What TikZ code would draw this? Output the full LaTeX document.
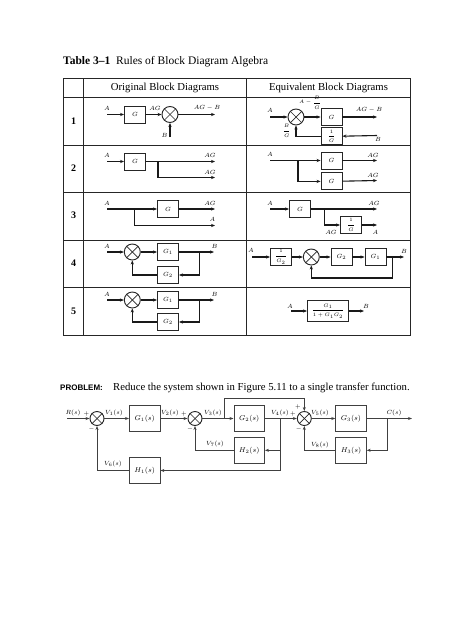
\documentclass[tikz,border=0pt]{standalone}
\usepackage{amsmath,amssymb}
\usepackage{fontspec}
\setmainfont{Liberation Serif}
\setsansfont{Liberation Sans}
\usetikzlibrary{arrows.meta, positioning, calc}

\begin{document}
\begin{tikzpicture}[
    x=1pt, y=-1pt,
    block/.style={
        rectangle, draw=black!85, fill=white, line width=0.9pt, inner sep=0pt,
        minimum width=21pt, minimum height=17pt, font=\fontsize{6.5}{7}\selectfont
    },
    fracblock/.style={block, font=\fontsize{5.5}{6}\selectfont},
    wideblock/.style={fracblock, minimum width=41pt, minimum height=20.5pt},
    sumnode/.style={
        circle, draw=black!85, fill=white, line width=0.9pt, inner sep=0pt, minimum size=16pt,
        append after command={
            (\tikzlastnode.north west) edge[line width=0.7pt, black!85] (\tikzlastnode.south east)
            (\tikzlastnode.north east) edge[line width=0.7pt, black!85] (\tikzlastnode.south west)
        }
    },
    syssum/.style={sumnode, minimum size=14pt},
    sysblock/.style={
        rectangle, draw=black!75, fill=white, line width=0.9pt, inner sep=0pt,
        minimum width=30.5pt, minimum height=26pt, font=\fontsize{7}{8}\selectfont
    },
    label/.style={inner sep=0pt, font=\fontsize{6}{7}\selectfont},
    fraclabel/.style={inner sep=0pt, font=\fontsize{5}{6}\selectfont},
    syslabel/.style={inner sep=0pt, font=\fontsize{6.5}{7}\selectfont},
    rowtag/.style={inner sep=0pt, font=\fontsize{10}{11}\selectfont\bfseries},
    head/.style={inner sep=0pt, font=\fontsize{10.7}{12}\selectfont},
    rule/.style={line width=0.9pt, black!85},
    arrow/.style={line width=1.1pt, black!90, -{Stealth[length=4pt,width=3.2pt]}},
    sysarrow/.style={line width=0.7pt, black!75, -{Stealth[length=4pt,width=3pt]}}
]
    \useasboundingbox (0,0) rectangle (474,632);

    %% Title
    \node[anchor=base west, inner sep=0pt, font=\fontsize{11.5}{13}\selectfont] (title) at (63,64)
        {\textbf{Table 3--1}\ \ Rules of Block Diagram Algebra};

    %% Table
    \coordinate (tl) at (63.5,78);
    \coordinate (br) at (410,335);
    \draw[rule] (tl) rectangle (br);
    \draw[rule] (83,78) -- (83,335);
    \draw[rule] (246,78) -- (246,335);
    \foreach \y in {97,145,192,240,287} {
        \draw[rule] (63.5,\y) -- (410,\y);
    }
    \node[head] (origin) at (165,88) {Original Block Diagrams};
    \node[head] (equiv) at (328.5,88) {Equivalent Block Diagrams};
    \node[rowtag] (one) at (73.5,121) {1};
    \node[rowtag] (two) at (73.5,168) {2};
    \node[rowtag] (three) at (73.5,215) {3};
    \node[rowtag] (four) at (73.5,263) {4};
    \node[rowtag] (five) at (73.5,311) {5};

    %% Row 1, original
    \coordinate (a1) at (107,114.5);
    \node[block] (g1) at (135,114.5) {$G$};
    \node[sumnode] (s1) at (170,114.5) {};
    \coordinate (o1) at (215,114.5);
    \coordinate (b1) at (170,137);
    \draw[arrow] (a1) -- (g1);
    \draw[arrow] (g1) -- (s1);
    \draw[arrow] (s1) -- (o1);
    \draw[arrow] (b1) -- (s1);
    \node[label] at (107,108) {$A$};
    \node[label] at (155,108) {$AG$};
    \node[label] at (207,108) {$AG-B$};
    \node[label] at (164.5,135.5) {$B$};

    %% Row 1, equivalent
    \coordinate (a1e) at (270,117);
    \node[sumnode] (s1e) at (296,117) {};
    \node[block] (g1e) at (331.5,117) {$G$};
    \node[fracblock, below=1.5pt of g1e] (h1e) {$\dfrac{1}{G}$};
    \coordinate (o1e) at (377,117);
    \coordinate (b1e) at (377,135.5);
    \draw[arrow] (a1e) -- (s1e);
    \draw[arrow] (s1e) -- (g1e);
    \draw[arrow] (g1e) -- (o1e);
    \draw[arrow] (b1e) -- (h1e);
    \draw[arrow] (h1e) -| (s1e);
    \node[label] at (270,110) {$A$};
    \node[fraclabel] at (310,102.5) {$A-\dfrac{B}{G}$};
    \node[label] at (369,110) {$AG-B$};
    \node[fraclabel] at (286.7,131) {$\dfrac{B}{G}$};
    \node[label] at (378,139) {$B$};

    %% Row 2, original
    \coordinate (a2) at (107,161.5);
    \node[block] (g2) at (135,161.5) {$G$};
    \coordinate (o2) at (215,161.5);
    \coordinate (p2) at (215,177.5);
    \coordinate (j2) at (158,161.5);
    \draw[arrow] (a2) -- (g2);
    \draw[arrow] (g2) -- (o2);
    \draw[arrow] (j2) |- (p2);
    \node[label] at (107,155.5) {$A$};
    \node[label] at (210,155) {$AG$};
    \node[label] at (210,172) {$AG$};

    %% Row 2, equivalent
    \coordinate (a2e) at (270,160.5);
    \node[block] (g2e) at (331.5,160.5) {$G$};
    \node[block, below=3pt of g2e] (h2e) {$G$};
    \coordinate (o2e) at (377,160.5);
    \coordinate (p2e) at (377,180.5);
    \coordinate (j2e) at (298,160.5);
    \draw[arrow] (a2e) -- (g2e);
    \draw[arrow] (g2e) -- (o2e);
    \draw[arrow] (j2e) |- (h2e);
    \draw[arrow] (h2e) -- (p2e);
    \node[label] at (270,154) {$A$};
    \node[label] at (373,155) {$AG$};
    \node[label] at (373,175) {$AG$};

    %% Row 3, original
    \coordinate (a3) at (107,209);
    \node[block] (g3) at (168,209) {$G$};
    \coordinate (o3) at (215,209);
    \coordinate (p3) at (215,225.5);
    \coordinate (j3) at (134.7,209);
    \draw[arrow] (a3) -- (g3);
    \draw[arrow] (g3) -- (o3);
    \draw[arrow] (j3) |- (p3);
    \node[label] at (107,203) {$A$};
    \node[label] at (210,203) {$AG$};
    \node[label] at (212.5,219) {$A$};

    %% Row 3, equivalent
    \coordinate (a3e) at (270,209);
    \node[block] (g3e) at (300,209) {$G$};
    \node[fracblock] (h3e) at (351,225) {$\dfrac{1}{G}$};
    \coordinate (o3e) at (377,209);
    \coordinate (p3e) at (377,225);
    \coordinate (j3e) at (324.7,209);
    \draw[arrow] (a3e) -- (g3e);
    \draw[arrow] (g3e) -- (o3e);
    \draw[arrow] (j3e) |- (h3e);
    \draw[arrow] (h3e) -- (p3e);
    \node[label] at (270,203) {$A$};
    \node[label] at (374,203) {$AG$};
    \node[label] at (331,232) {$AG$};
    \node[label] at (375.5,232) {$A$};

    %% Row 4, original
    \coordinate (a4) at (107,252);
    \node[sumnode] (s4) at (132.3,252) {};
    \node[block] (g4) at (168,252) {$G_1$};
    \node[block] (k4) at (168,275) {$G_2$};
    \coordinate (o4) at (214,252);
    \coordinate (j4) at (199.7,252);
    \draw[arrow] (a4) -- (s4);
    \draw[arrow] (s4) -- (g4);
    \draw[arrow] (g4) -- (o4);
    \draw[arrow] (j4) |- (k4);
    \draw[arrow] (k4) -| (s4);
    \node[label] at (107,246) {$A$};
    \node[label] at (214.5,246) {$B$};

    %% Row 4, equivalent
    \coordinate (a4e) at (252,257);
    \node[fracblock] (h4e) at (281,257) {$\dfrac{1}{G_2}$};
    \node[sumnode] (s4e) at (311.3,257) {};
    \node[block] (k4e) at (341.5,257) {$G_2$};
    \node[block] (g4e) at (375.5,257) {$G_1$};
    \coordinate (o4e) at (404,257);
    \coordinate (j4e) at (392.7,257);
    \coordinate (f4e) at (392.7,278);
    \draw[arrow] (a4e) -- (h4e);
    \draw[arrow] (h4e) -- (s4e);
    \draw[arrow] (s4e) -- (k4e);
    \draw[arrow] (k4e) -- (g4e);
    \draw[arrow] (g4e) -- (o4e);
    \draw[arrow] (j4e) -- (f4e) -| (s4e);
    \node[label] at (251,250.5) {$A$};
    \node[label] at (404,251) {$B$};

    %% Row 5, original
    \coordinate (a5) at (107,300);
    \node[sumnode] (s5) at (132.3,300) {};
    \node[block] (g5) at (168,300) {$G_1$};
    \node[block] (k5) at (168,322) {$G_2$};
    \coordinate (o5) at (214,300);
    \coordinate (j5) at (199.7,300);
    \draw[arrow] (a5) -- (s5);
    \draw[arrow] (s5) -- (g5);
    \draw[arrow] (g5) -- (o5);
    \draw[arrow] (j5) |- (k5);
    \draw[arrow] (k5) -| (s5);
    \node[label] at (107,294) {$A$};
    \node[label] at (214.5,294) {$B$};

    %% Row 5, equivalent
    \coordinate (a5e) at (291,311);
    \node[wideblock] (g5e) at (328,311) {$\dfrac{G_1}{1+G_1G_2}$};
    \coordinate (o5e) at (364,311);
    \draw[arrow] (a5e) -- (g5e);
    \draw[arrow] (g5e) -- (o5e);
    \node[label] at (290,306) {$A$};
    \node[label] at (366,306) {$B$};

    %% Problem statement
    \node[anchor=base west, inner sep=0pt, font=\fontsize{8}{9}\selectfont\sffamily\bfseries] (prob) at (60,390) {PROBLEM:};
    \node[anchor=base west, inner sep=0pt, font=\fontsize{10.7}{12}\selectfont] (task) at (113,390)
        {Reduce the system shown in Figure 5.11 to a single transfer function.};

    %% System
    \coordinate (r) at (67,418.5);
    \node[syssum] (c1) at (97,418.5) {};
    \node[sysblock] (G1) at (144.7,418.5) {$G_1(s)$};
    \node[syssum] (c2) at (195,418.5) {};
    \node[sysblock] (G2) at (249.2,418.5) {$G_2(s)$};
    \node[syssum] (c3) at (304.3,418.5) {};
    \node[sysblock] (G3) at (351,418.5) {$G_3(s)$};
    \node[sysblock] (H3) at (351,450.3) {$H_3(s)$};
    \node[sysblock] (H2) at (249.2,450.3) {$H_2(s)$};
    \node[sysblock] (H1) at (144.7,470.5) {$H_1(s)$};
    \coordinate (c) at (412,418.5);
    \coordinate (jc) at (387.7,418.5);
    \coordinate (jv4) at (280,418.5);
    \coordinate (jv3) at (224,418.5);
    \coordinate (top) at (304.3,398);

    \draw[sysarrow] (r) -- (c1);
    \draw[sysarrow] (c1) -- (G1);
    \draw[sysarrow] (G1) -- (c2);
    \draw[sysarrow] (c2) -- (G2);
    \draw[sysarrow] (G2) -- (c3);
    \draw[sysarrow] (c3) -- (G3);
    \draw[sysarrow] (G3) -- (c);
    \draw[sysarrow] (jc) |- (H3);
    \draw[sysarrow] (H3) -| (c3);
    \draw[sysarrow] (jv4) |- (H2);
    \draw[sysarrow] (H2) -| (c2);
    \draw[sysarrow] (jv4) |- (H1);
    \draw[sysarrow] (H1) -| (c1);
    \draw[sysarrow] (jv3) |- (top) -- (c3);

    \node[syslabel] at (73,413) {$R(s)$};
    \node[syslabel] at (86.5,413.5) {$+$};
    \node[syslabel] at (91.5,429) {$-$};
    \node[syslabel] at (114,413) {$V_1(s)$};
    \node[syslabel] at (170,413) {$V_2(s)$};
    \node[syslabel] at (184,413.5) {$+$};
    \node[syslabel] at (190,429) {$-$};
    \node[syslabel] at (213,413) {$V_3(s)$};
    \node[syslabel] at (280,413) {$V_4(s)$};
    \node[syslabel] at (293,414) {$+$};
    \node[syslabel] at (298,407) {$+$};
    \node[syslabel] at (298.7,429) {$-$};
    \node[syslabel] at (320,413) {$V_5(s)$};
    \node[syslabel] at (394,413) {$C(s)$};
    \node[syslabel] at (215,444) {$V_7(s)$};
    \node[syslabel] at (320,444.5) {$V_8(s)$};
    \node[syslabel] at (113,464) {$V_6(s)$};
\end{tikzpicture}
\end{document}
